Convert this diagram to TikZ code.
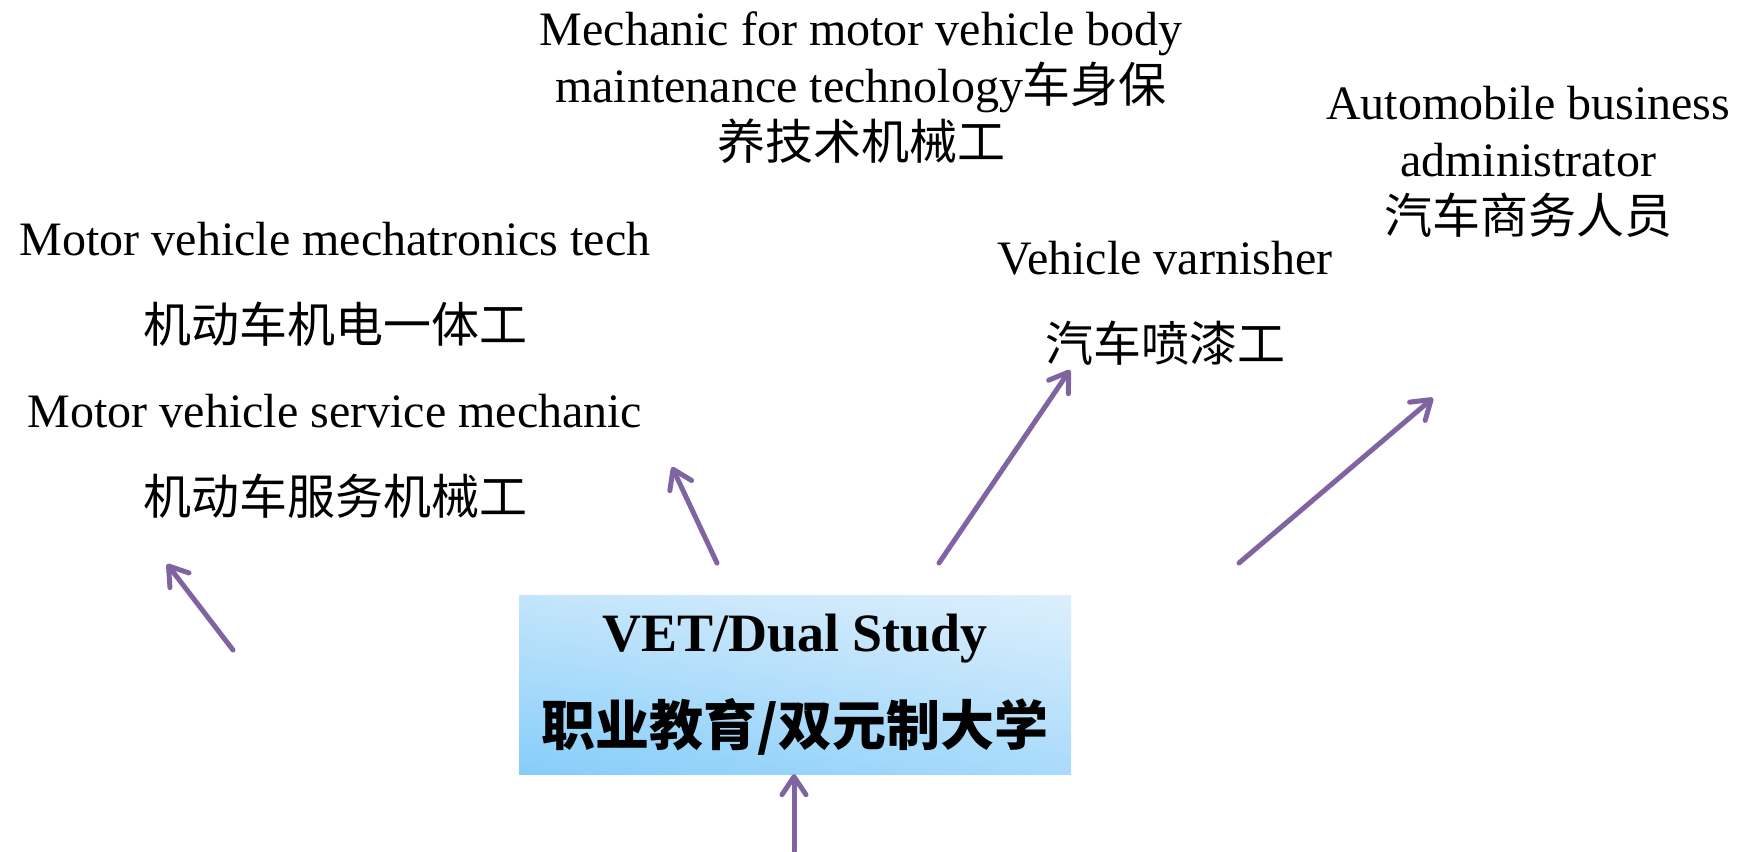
\documentclass[tikz,border=0pt]{standalone}
\usepackage{fontspec}
\setmainfont{Liberation Serif}
\newfontfamily\cjk{Noto Sans CJK SC}
\usetikzlibrary{arrows.meta,positioning,shadings}
\definecolor{linkpurple}{HTML}{8064A2}
\definecolor{boxlight}{HTML}{DDEFFC}
\definecolor{boxdark}{HTML}{86CDFA}

\begin{document}
\begin{tikzpicture}[x=1pt,y=-1pt,
    job/.style={font=\fontsize{48}{57}\selectfont, align=center, inner sep=0pt},
    jobcn/.style={font=\cjk\fontsize{48}{57}\selectfont, inner sep=0pt},
    link/.style={line width=5pt, linkpurple, line cap=round, line join=round,
        -{Straight Barb[length=18pt,width=24pt,line cap=round,line join=round]}}]
    \useasboundingbox (0,0) rectangle (1742,851);

    % Centre box
    \node (vet) at (795,684.5) [minimum width=552pt, minimum height=179pt, inner sep=0pt,
        upper left=boxlight!70!boxdark, upper right=boxlight,
        lower left=boxdark, lower right=boxdark!60!boxlight,
        align=center, font=\fontsize{54}{94}\selectfont]
        {\textbf{VET/Dual Study}\\{\cjk\bfseries 职业教育/双元制大学}};

    % Jobs
    \node (mecha) at (335,239) [job] {Motor vehicle mechatronics tech};
    \node (mechacn) at (335,324) [jobcn] {机动车机电一体工};
    \node (serv) at (335,411) [job] {Motor vehicle service mechanic};
    \node (servcn) at (335,496) [jobcn] {机动车服务机械工};
    \node (body) at (861,88) [job] {Mechanic for motor vehicle body\\
        maintenance technology{\cjk 车身保}\\{\cjk 养技术机械工}};
    \node (varn) at (1165,258) [job] {Vehicle varnisher};
    \node (varncn) at (1165,343) [jobcn] {汽车喷漆工};
    \node (admin) at (1528,162) [job] {Automobile business\\administrator\\{\cjk 汽车商务人员}};

    % Arrows
    \coordinate (a1) at (233,650); \coordinate (b1) at (167,564);
    \coordinate (a2) at (717,563); \coordinate (b2) at (672,467);
    \coordinate (a3) at (939,563); \coordinate (b3) at (1070,370);
    \coordinate (a4) at (1239,563); \coordinate (b4) at (1433,398);
    \coordinate (a5) at (794,851);
    \draw[link] (a1) -- (b1);
    \draw[link] (a2) -- (b2);
    \draw[link] (a3) -- (b3);
    \draw[link] (a4) -- (b4);
    \draw[link] (a5) -- (vet.south -| a5);

\end{tikzpicture}
\end{document}
